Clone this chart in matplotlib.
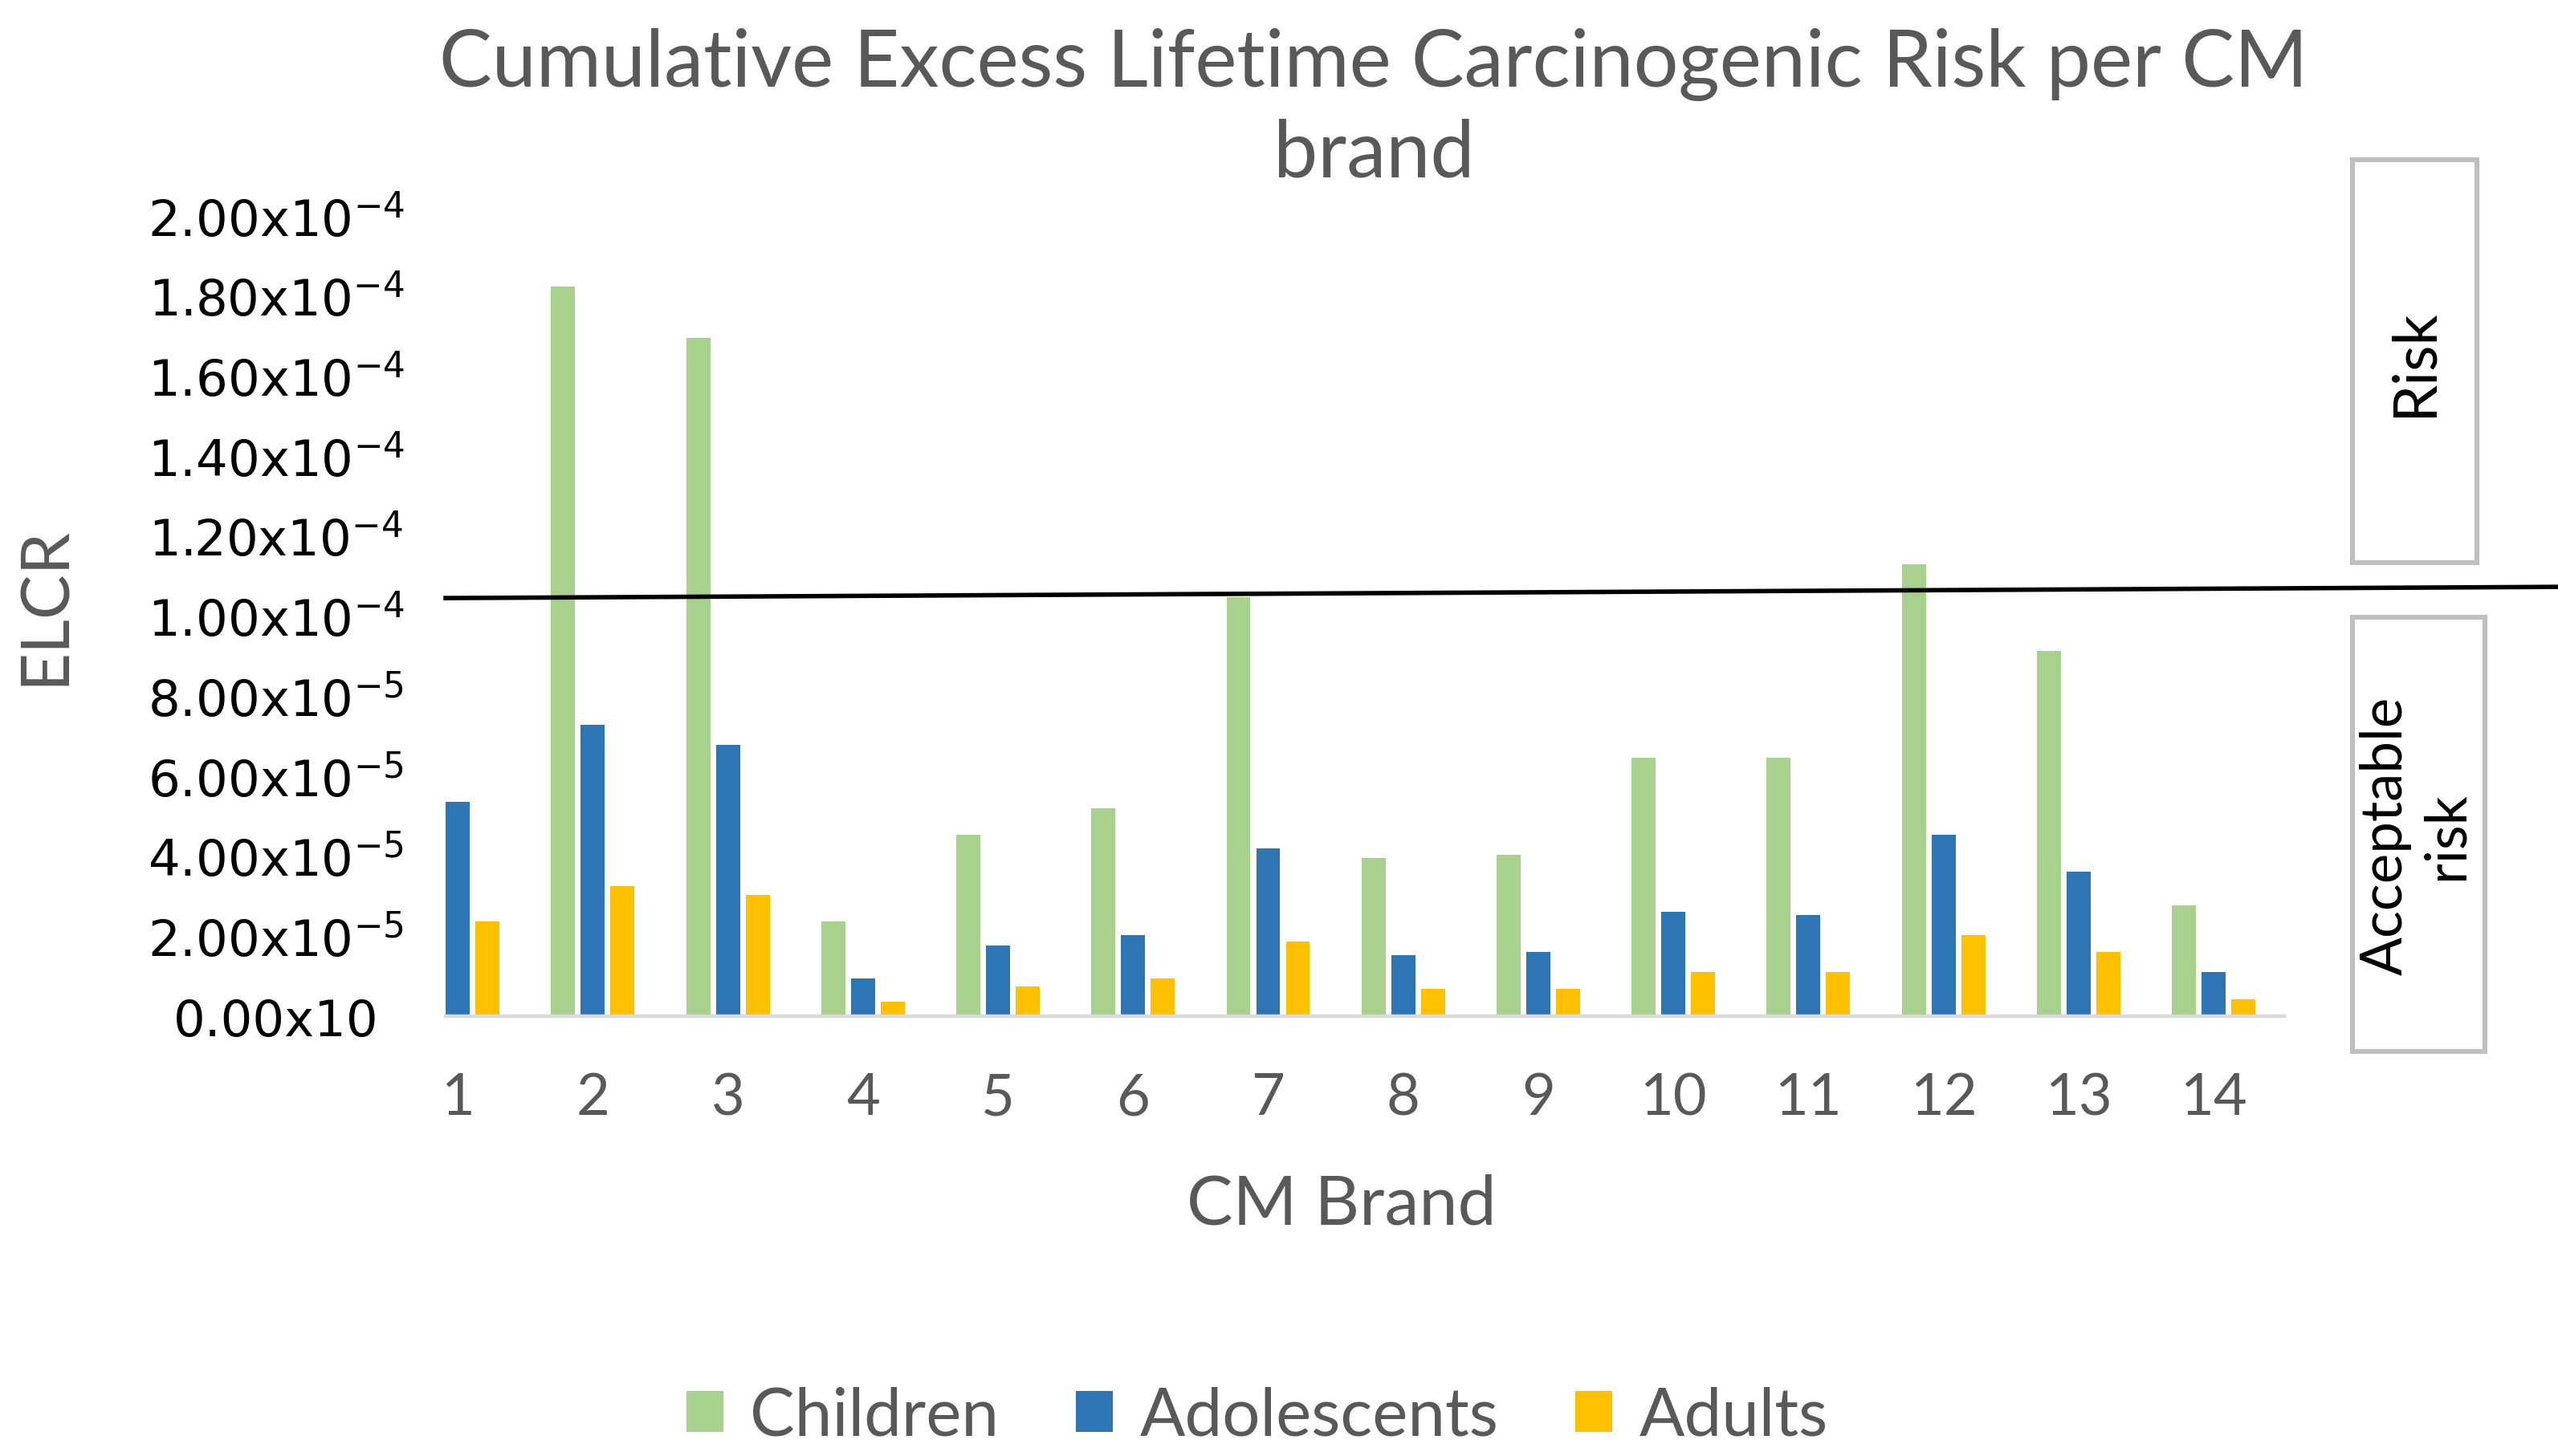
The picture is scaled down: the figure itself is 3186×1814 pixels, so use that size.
import matplotlib
matplotlib.use("Agg")
import matplotlib.pyplot as plt
import matplotlib.transforms as mtransforms
from matplotlib.patches import Rectangle
import numpy as np

# values (brand 1 children bar is hidden in the source)
brands = ["1", "2", "3", "4", "5", "6", "7", "8", "9", "10", "11", "12", "13", "14"]
children = [np.nan, 1.823e-4, 1.696e-4, 2.37e-5, 4.53e-5, 5.19e-5, 1.047e-4,
            3.95e-5, 4.03e-5, 6.46e-5, 6.46e-5, 1.130e-4, 9.12e-5, 2.76e-5]
adolescents = [5.36e-5, 7.28e-5, 6.78e-5, 9.5e-6, 1.77e-5, 2.02e-5, 4.20e-5,
               1.52e-5, 1.60e-5, 2.61e-5, 2.52e-5, 4.53e-5, 3.61e-5, 1.10e-5]
adults = [2.37e-5, 3.26e-5, 3.03e-5, 3.6e-6, 7.5e-6, 9.5e-6, 1.87e-5,
          6.8e-6, 6.8e-6, 1.10e-5, 1.10e-5, 2.02e-5, 1.60e-5, 4.3e-6]
series_names = ["Children", "Adolescents", "Adults"]

ytick_values = [0, 2e-5, 4e-5, 6e-5, 8e-5, 1e-4, 1.2e-4, 1.4e-4, 1.6e-4, 1.8e-4, 2e-4]
ytick_labels = ["0.00x10", "2.00x10$^{-5}$", "4.00x10$^{-5}$", "6.00x10$^{-5}$",
                "8.00x10$^{-5}$", "1.00x10$^{-4}$", "1.20x10$^{-4}$", "1.40x10$^{-4}$",
                "1.60x10$^{-4}$", "1.80x10$^{-4}$", "2.00x10$^{-4}$"]

# hand-drawn threshold line (slightly tilted in the source)
limit_line_y = [1.045e-4, 1.073e-4]

GREEN = "#A9D18E"
BLUE = "#2E75B6"
YELLOW = "#FFC000"
GRAY_TEXT = "#595959"

plt.rcParams["font.family"] = ["Lato", "DejaVu Sans"]

fig = plt.figure(figsize=(15.93, 9.075), dpi=200)
ax = fig.add_axes([0.1742, 0.3019, 0.7188, 0.5493])

x = np.arange(len(brands))
w = 0.178
off = 0.22
ax.bar(x - off, children, w, color=GREEN, label=series_names[0])
ax.bar(x, adolescents, w, color=BLUE, label=series_names[1])
ax.bar(x + off, adults, w, color=YELLOW, label=series_names[2])

ax.set_xlim(-0.09, 13.523)
ax.set_ylim(0, 2e-4)
ax.set_xticks(x)
ax.set_xticklabels(brands, fontsize=26, color=GRAY_TEXT)
ax.set_yticks(ytick_values)
ax.set_yticklabels(ytick_labels, fontsize=22.5, color="black", family="DejaVu Sans", ha="center")
ax.tick_params(axis="x", length=0, pad=25)
ax.tick_params(axis="y", length=0, pad=76)

for s in ["top", "right", "left"]:
    ax.spines[s].set_visible(False)
ax.spines["bottom"].set_color("#D9D9D9")
ax.spines["bottom"].set_linewidth(1.6)

trans = mtransforms.blended_transform_factory(ax.transAxes, ax.transData)
ax.plot([0, 1.1485], limit_line_y, color="black", lw=2, transform=trans, clip_on=False)

fig.text(0.537, 0.925, "Cumulative Excess Lifetime Carcinogenic Risk per CM\nbrand",
         ha="center", va="center", fontsize=35.5, color=GRAY_TEXT, linespacing=1.3)
fig.text(0.018, 0.584, "ELCR", rotation=90, ha="center", va="center",
         fontsize=30, color=GRAY_TEXT)
fig.text(0.5245, 0.173, "CM Brand", ha="center", va="center", fontsize=31, color=GRAY_TEXT)

# side boxes
for (x0, y0, bw, bh) in [(0.9197, 0.6132, 0.0487, 0.2766), (0.9197, 0.2777, 0.0518, 0.2981)]:
    fig.patches.append(Rectangle((x0, y0), bw, bh, transform=fig.transFigure,
                                 facecolor="white", edgecolor="#BFBFBF", lw=2.2))
fig.text(0.9438, 0.751, "Risk", rotation=90, ha="center", va="center",
         fontsize=27, color="black")
fig.text(0.9445, 0.4265, "Acceptable\nrisk", rotation=90, ha="center", va="center",
         fontsize=25.5, color="black", multialignment="center", linespacing=1.2)

fig.legend(loc="center", bbox_to_anchor=(0.4915, 0.027), ncol=3, frameon=False,
           fontsize=30, labelcolor=GRAY_TEXT, handlelength=0.55, handleheight=0.55,
           columnspacing=1.15, handletextpad=0.4)

fig.savefig("out.png", dpi=200)
